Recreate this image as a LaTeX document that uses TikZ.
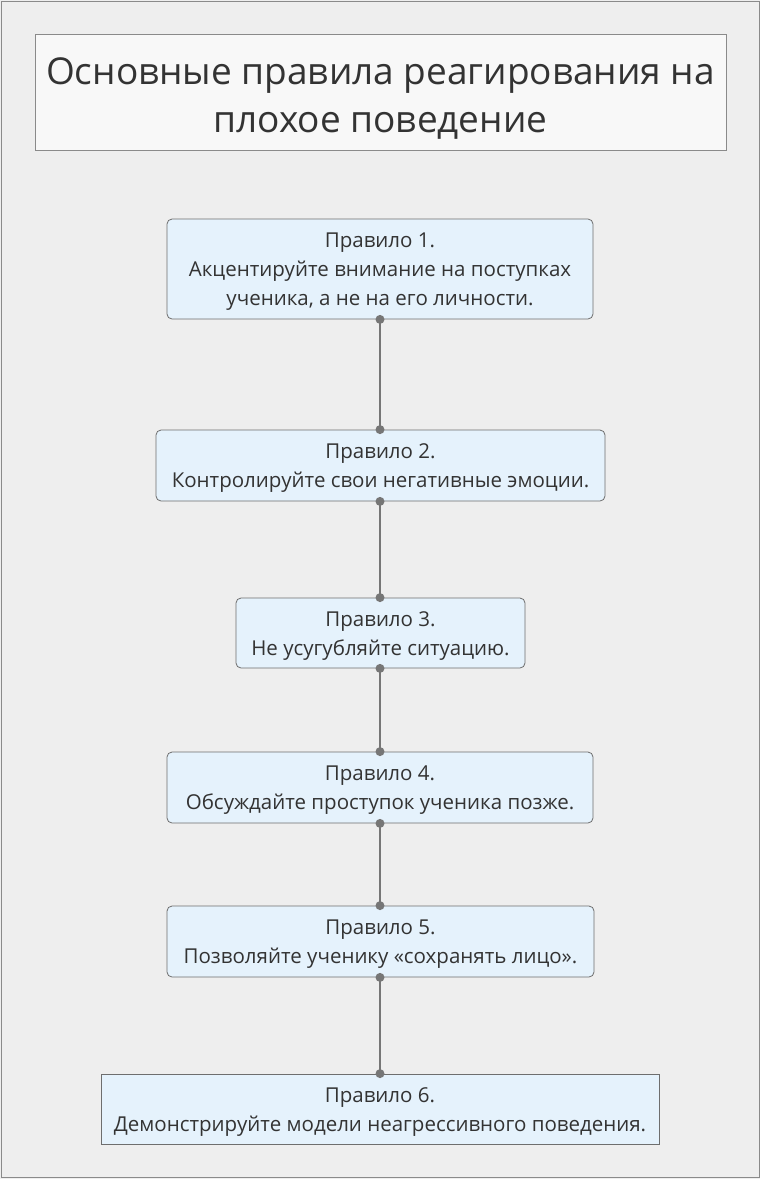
\documentclass[tikz,border=0pt]{standalone}
\usepackage{fontspec}
\setmainfont{Open Sans}
\usepackage{xcolor}
\usepackage{tikz}
\usetikzlibrary{positioning}
\definecolor{pagegray}{HTML}{EEEEEE}
\definecolor{framegray}{HTML}{8A8A8A}
\definecolor{rulefill}{HTML}{E5F2FC}
\definecolor{ruleedge}{HTML}{6E6E6E}
\definecolor{linkgray}{HTML}{767676}
\newcommand{\topstrut}{\rule{0pt}{20.5pt}}
\tikzset{
  rulebox/.style={draw=ruleedge, line width=0.8pt, fill=rulefill, rounded corners=5pt,
    align=center, inner sep=0pt, font=\fontsize{20.5}{29}\selectfont, text=black!80},
  titlebox/.style={draw=framegray, line width=0.8pt, fill=white!60!pagegray,
    minimum width=691pt, minimum height=116pt},
  titletext/.style={align=center, inner sep=0pt, font=\fontsize{37}{48}\selectfont, text=black!80},
  linkdot/.style={circle, fill=linkgray, inner sep=0pt, minimum size=9pt}
}

\begin{document}
\begin{tikzpicture}[x=1pt,y=-1pt]
\useasboundingbox (0,0) rectangle (760,1179);
\fill[pagegray] (0,0) rectangle (760,1179);
\draw[framegray, line width=1pt] (1,1) rectangle (759,1177);
% title
\node[titlebox] (title) at (380.5,92) {};
\node[titletext] (titlelabel) at (380.5,99)
  {Основные правила реагирования на\\плохое поведение};
% rules
\node[rulebox, minimum width=426pt, minimum height=100pt] (r1) at (380,269)
  {\topstrut Правило 1.\\Акцентируйте внимание на поступках\\ученика, а не на его личности.};
\node[rulebox, minimum width=449pt, minimum height=71pt] (r2) at (380.5,465.5)
  {\topstrut Правило 2.\\Контролируйте свои негативные эмоции.};
\node[rulebox, minimum width=289pt, minimum height=70pt] (r3) at (380.5,633)
  {\topstrut Правило 3.\\Не усугубляйте ситуацию.};
\node[rulebox, minimum width=426pt, minimum height=71pt] (r4) at (380,787.5)
  {\topstrut Правило 4.\\Обсуждайте проступок ученика позже.};
\node[rulebox, minimum width=427pt, minimum height=71pt] (r5) at (380.5,941.5)
  {\topstrut Правило 5.\\Позволяйте ученику «сохранять лицо».};
\node[rulebox, rounded corners=0pt, minimum width=558pt, minimum height=70pt] (r6) at (380,1109)
  {\topstrut Правило 6.\\Демонстрируйте модели неагрессивного поведения.};
% links
\foreach \a/\b in {r1/r2,r2/r3,r3/r4,r4/r5,r5/r6}{
  \coordinate (\a-out) at (\a.south -| 380,0);
  \coordinate (\b-in) at (\b.north -| 380,0);
  \draw[linkgray, line width=1.8pt] (\a-out) -- (\b-in);
  \node[linkdot] at (\a-out) {};
  \node[linkdot] at (\b-in) {};
}
\end{tikzpicture}
\end{document}
